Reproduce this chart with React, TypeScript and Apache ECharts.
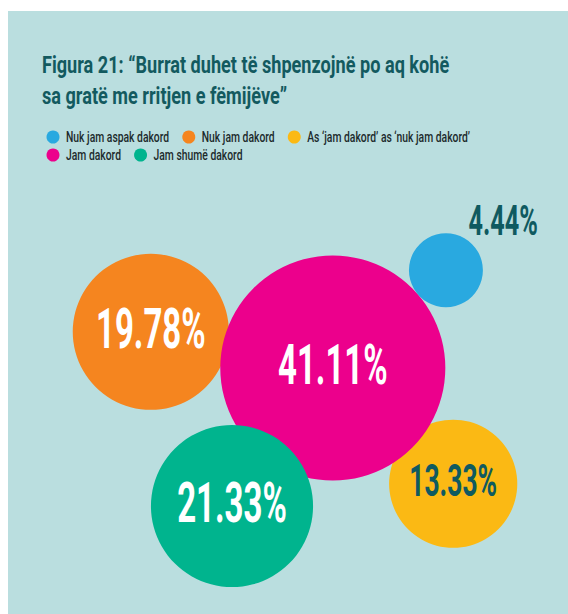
import React, { useEffect, useRef } from "react";
import * as echarts from "echarts";

const categories = [
  "Nuk jam aspak dakord",
  "Nuk jam dakord",
  "As ‘jam dakord’ as ‘nuk jam dakord’",
  "Jam dakord",
  "Jam shumë dakord",
];
const shares = [4.44, 19.78, 13.33, 41.11, 21.33];
// bubble layout positions (abstract 0-100 panel units)
const posX = [78.2, 25.5, 79.5, 58.0, 40.0];
const posY = [43.0, 53.2, 78.4, 59.2, 82.1];
const colors = ["#29a9e0", "#f5851f", "#fbb914", "#ec008c", "#00b48e"];
const layerZ = [4, 1, 1, 2, 3];
const legendRows = [3, 2];
const titleLines = [
  "Figura 21: “Burrat duhet të shpenzojnë po aq kohë",
  "sa gratë me rritjen e fëmijëve”",
];

const DARK = "#0f5a60";
const NARROW = 0.74;

function luminance(hex: string) {
  const h = hex.replace("#", "");
  const ch = [0, 2, 4].map((i) => {
    const c = parseInt(h.slice(i, i + 2), 16) / 255;
    return c <= 0.03928 ? c / 12.92 : Math.pow((c + 0.055) / 1.055, 2.4);
  });
  return 0.2126 * ch[0] + 0.7152 * ch[1] + 0.0722 * ch[2];
}

function measure(text: string, font: string) {
  const ctx = document.createElement("canvas").getContext("2d");
  if (!ctx) return text.length * 7;
  ctx.font = font;
  return ctx.measureText(text).width;
}

function buildLegend() {
  const els: any[] = [];
  const fontSize = 14;
  const font = `500 ${fontSize}px Roboto`;
  let idx = 0;
  legendRows.forEach((count, row) => {
    let x = 46.5;
    const cy = 137 + row * 18;
    for (let k = 0; k < count; k++, idx++) {
      const name = categories[idx];
      els.push({
        type: "circle",
        silent: true,
        shape: { cx: x + 6.5, cy, r: 6.5 },
        style: { fill: colors[idx] },
      });
      els.push({
        type: "text",
        silent: true,
        x: x + 13 + 6.5,
        y: cy,
        scaleX: NARROW,
        style: {
          text: name,
          fill: "#1c2a2c",
          fontSize,
          fontFamily: "Roboto",
          fontWeight: 500,
          align: "left",
          verticalAlign: "middle",
        },
      });
      x += 13 + 6.5 + measure(name, font) * NARROW + 13;
    }
  });
  return els;
}

export default function App() {
  const ref = useRef<HTMLDivElement>(null);
  useEffect(() => {
    if (!ref.current) return;
    const chart = echarts.init(ref.current, undefined, { renderer: "svg" });
    const series = categories.map((name, i) => ({
      type: "custom",
      name,
      z: layerZ[i],
      itemStyle: { color: colors[i] },
      data: [[posX[i], posY[i], shares[i]]],
      renderItem: (params: any, api: any) => {
        const c = api.coord([api.value(0), api.value(1)]);
        const v = api.value(2) as number;
        const r = Math.sqrt(v) * 17.55;
        const color = api.visual("color") as string;
        const outside = r < 45;
        const fs = outside ? 42 : r > 70 ? 55 : 44;
        const tx = outside ? c[0] + r * 1.55 : c[0];
        const ty = outside ? c[1] - r * 1.35 : c[1] - 3;
        const fill = outside || luminance(color) > 0.45 ? DARK : "#ffffff";
        return {
          type: "group",
          children: [
            {
              type: "circle",
              shape: { cx: c[0], cy: c[1], r },
              style: { fill: color },
            },
            {
              type: "text",
              x: tx,
              y: ty,
              scaleX: 0.6,
              style: {
                text: v.toFixed(2) + "%",
                fill,
                fontSize: fs,
                fontFamily: "Roboto",
                fontWeight: "bold",
                align: "center",
                verticalAlign: "middle",
              },
            },
          ],
        };
      },
    }));
    const titleEls = titleLines.map((t, i) => ({
      type: "text",
      x: 42,
      y: 64.5 + i * 31,
      scaleX: NARROW,
      silent: true,
      style: {
        text: t,
        fill: "#135a5f",
        fontSize: 24.5,
        fontFamily: "Roboto",
        fontWeight: "bold",
        align: "left",
        verticalAlign: "middle",
      },
    }));
    chart.setOption({
      animation: false,
      backgroundColor: "#ffffff",
      grid: {
        left: 8,
        right: 0,
        top: 11,
        bottom: 0,
        show: true,
        backgroundColor: "#badedf",
        borderWidth: 0,
      },
      xAxis: { type: "value", min: 0, max: 100, show: false },
      yAxis: { type: "value", min: 0, max: 100, inverse: true, show: false },
      graphic: [...titleEls, ...buildLegend()],
      series,
    });
    return () => chart.dispose();
  }, []);
  return (
    <div
      ref={ref}
      style={{ position: "fixed", left: 0, top: 0, width: 568, height: 614 }}
    />
  );
}
